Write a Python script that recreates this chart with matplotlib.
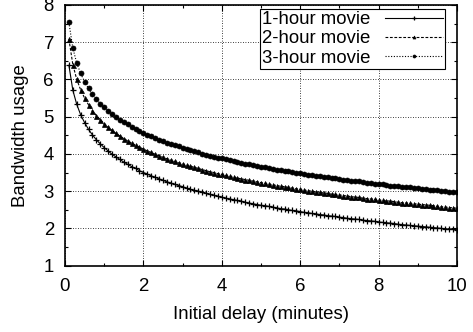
import numpy as np
import matplotlib
matplotlib.use('Agg')
import matplotlib.pyplot as plt
from matplotlib.ticker import MultipleLocator

plt.rcParams['font.family'] = ['Liberation Sans', 'DejaVu Sans']

# initial delay in minutes, one sample every 0.1 min
delay = np.round(np.arange(1, 101) * 0.1, 1)

one_hour = [
    6.38, 5.71, 5.33, 5.05, 4.84, 4.66, 4.51, 4.38, 4.27, 4.17,
    4.08, 3.99, 3.92, 3.85, 3.78, 3.72, 3.66, 3.61, 3.55, 3.50,
    3.46, 3.41, 3.37, 3.33, 3.29, 3.25, 3.22, 3.18, 3.15, 3.12,
    3.08, 3.05, 3.02, 3.00, 2.97, 2.94, 2.91, 2.89, 2.86, 2.84,
    2.81, 2.79, 2.77, 2.75, 2.73, 2.70, 2.68, 2.66, 2.64, 2.62,
    2.61, 2.59, 2.57, 2.55, 2.53, 2.52, 2.50, 2.48, 2.47, 2.45,
    2.43, 2.42, 2.40, 2.39, 2.37, 2.36, 2.34, 2.33, 2.32, 2.30,
    2.29, 2.27, 2.26, 2.25, 2.24, 2.22, 2.21, 2.20, 2.19, 2.17,
    2.16, 2.15, 2.14, 2.13, 2.11, 2.10, 2.09, 2.08, 2.07, 2.06,
    2.05, 2.04, 2.03, 2.02, 2.01, 2.00, 1.99, 1.98, 1.97, 1.96,
]

two_hour = [
    7.08, 6.40, 6.00, 5.72, 5.50, 5.32, 5.16, 5.03, 4.92, 4.81,
    4.72, 4.63, 4.55, 4.48, 4.41, 4.35, 4.29, 4.23, 4.18, 4.13,
    4.08, 4.04, 3.99, 3.95, 3.91, 3.87, 3.83, 3.80, 3.76, 3.73,
    3.70, 3.67, 3.64, 3.61, 3.58, 3.55, 3.52, 3.50, 3.47, 3.45,
    3.42, 3.40, 3.38, 3.35, 3.33, 3.31, 3.29, 3.27, 3.25, 3.23,
    3.21, 3.19, 3.17, 3.15, 3.13, 3.12, 3.10, 3.08, 3.06, 3.05,
    3.03, 3.01, 3.00, 2.98, 2.97, 2.95, 2.94, 2.92, 2.91, 2.90,
    2.88, 2.87, 2.85, 2.84, 2.83, 2.81, 2.80, 2.79, 2.78, 2.76,
    2.75, 2.74, 2.73, 2.72, 2.70, 2.69, 2.68, 2.67, 2.66, 2.65,
    2.64, 2.63, 2.62, 2.61, 2.59, 2.58, 2.57, 2.56, 2.55, 2.54,
]

three_hour = [
    7.53, 6.84, 6.44, 6.16, 5.94, 5.76, 5.60, 5.47, 5.35, 5.25,
    5.16, 5.07, 4.99, 4.92, 4.85, 4.79, 4.73, 4.67, 4.62, 4.56,
    4.52, 4.47, 4.43, 4.38, 4.34, 4.30, 4.27, 4.23, 4.20, 4.16,
    4.13, 4.10, 4.07, 4.04, 4.01, 3.98, 3.95, 3.93, 3.90, 3.88,
    3.85, 3.83, 3.81, 3.78, 3.76, 3.74, 3.72, 3.70, 3.68, 3.66,
    3.64, 3.62, 3.60, 3.58, 3.56, 3.55, 3.53, 3.51, 3.49, 3.48,
    3.46, 3.44, 3.43, 3.41, 3.40, 3.38, 3.37, 3.35, 3.34, 3.32,
    3.31, 3.30, 3.28, 3.27, 3.26, 3.24, 3.23, 3.22, 3.20, 3.19,
    3.18, 3.17, 3.15, 3.14, 3.13, 3.12, 3.11, 3.10, 3.09, 3.08,
    3.06, 3.05, 3.04, 3.03, 3.02, 3.01, 3.00, 2.99, 2.98, 2.97,
]

labels = ['1-hour movie', '2-hour movie', '3-hour movie']

fig = plt.figure(figsize=(4.73, 3.32), dpi=100)
ax = fig.add_axes([0.1374, 0.200, 0.8288, 0.785])

ax.plot(delay, one_hour, color='black', lw=0.8, ls='-', marker='+',
        ms=5, mew=0.9, label=labels[0])
ax.plot(delay, two_hour, color='black', lw=0.8, ls=(0, (2.5, 1.5)), marker='^',
        ms=3.6, mew=0.5, label=labels[1])
ax.plot(delay, three_hour, color='black', lw=0.8, ls=(0, (1, 1.5)), marker='o',
        ms=3.6, mew=0.5, label=labels[2])

fs = 13.4
ax.set_xlim(0, 10)
ax.set_ylim(1, 8)
ax.xaxis.set_major_locator(MultipleLocator(2))
ax.xaxis.set_minor_locator(MultipleLocator(1))
ax.yaxis.set_major_locator(MultipleLocator(1))
ax.yaxis.set_minor_locator(MultipleLocator(0.5))
ax.tick_params(which='both', direction='in', top=True, right=True,
               labelsize=fs, colors='black')
ax.tick_params(which='major', length=4, width=0.8)
ax.tick_params(which='minor', length=2, width=0.8)
ax.tick_params(axis='x', pad=9)
ax.tick_params(axis='y', pad=8)
ax.grid(True, which='major', color='black', ls=(0, (1, 2)), lw=0.6)
for s in ax.spines.values():
    s.set_linewidth(1.2)

ax.set_xlabel('Initial delay (minutes)', fontsize=fs, labelpad=8)
ax.set_ylabel('Bandwidth usage', fontsize=fs, labelpad=10)

leg = ax.legend(loc='upper right', bbox_to_anchor=(0.97, 0.985), fontsize=fs,
                markerfirst=False, handlelength=3.1, labelspacing=0.12,
                borderpad=0.12, borderaxespad=0.0, handletextpad=0.8,
                fancybox=False, framealpha=1, edgecolor='black', markerscale=0.6)
leg.get_frame().set_linewidth(0.8)

fig.savefig('out.png', dpi=100)
